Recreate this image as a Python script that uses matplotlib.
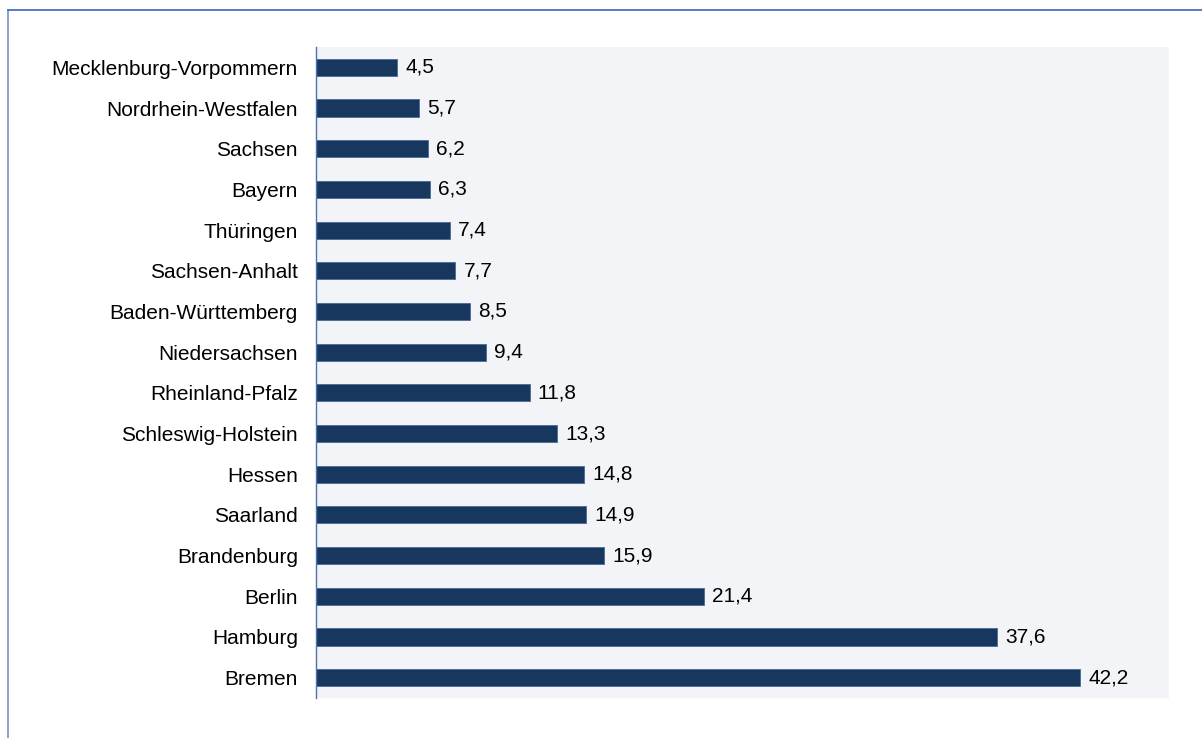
import matplotlib
matplotlib.use("Agg")
import matplotlib.pyplot as plt
from matplotlib.lines import Line2D

categories = ["Mecklenburg-Vorpommern", "Nordrhein-Westfalen", "Sachsen", "Bayern",
              "Thüringen", "Sachsen-Anhalt", "Baden-Württemberg", "Niedersachsen",
              "Rheinland-Pfalz", "Schleswig-Holstein", "Hessen", "Saarland",
              "Brandenburg", "Berlin", "Hamburg", "Bremen"]
values = [4.5, 5.7, 6.2, 6.3, 7.4, 7.7, 8.5, 9.4, 11.8, 13.3, 14.8, 14.9, 15.9, 21.4, 37.6, 42.2]

plt.rcParams['font.family'] = ['Liberation Sans', 'DejaVu Sans']

W, H = 1202, 738
fig = plt.figure(figsize=(W / 100, H / 100), dpi=100)
ax = fig.add_axes([316 / W, 1 - 698 / H, (1169 - 316) / W, (698 - 47) / H])
ax.set_facecolor("#F3F4F8")

n = len(categories)
ypos = list(range(n))
ax.barh(ypos, values, height=0.42, color="#17375E", edgecolor="#4A6A94", linewidth=0.6)
ax.set_ylim(n - 0.5, -0.5)
ax.set_xlim(0, 47.1)
ax.set_yticks(ypos)
ax.set_yticklabels(categories, fontsize=15)
ax.tick_params(axis='y', length=0, pad=13)
ax.set_xticks([])
for s in ["top", "right", "bottom"]:
    ax.spines[s].set_visible(False)
ax.spines["left"].set_color("#4A72B0")
ax.spines["left"].set_linewidth(1.0)

for y, v in zip(ypos, values):
    ax.text(v + 0.45, y, f"{v:.1f}".replace(".", ","), va="center", ha="left", fontsize=15)

# outer frame (left and top edges visible)
fig.add_artist(Line2D([7.5 / W, 7.5 / W], [0, 1 - 10 / H], transform=fig.transFigure,
                      color="#7F9CC8", linewidth=1.3))
fig.add_artist(Line2D([7.5 / W, 1], [1 - 10 / H, 1 - 10 / H], transform=fig.transFigure,
                      color="#4A72C0", linewidth=1.3))

fig.savefig("out.png", dpi=100)
